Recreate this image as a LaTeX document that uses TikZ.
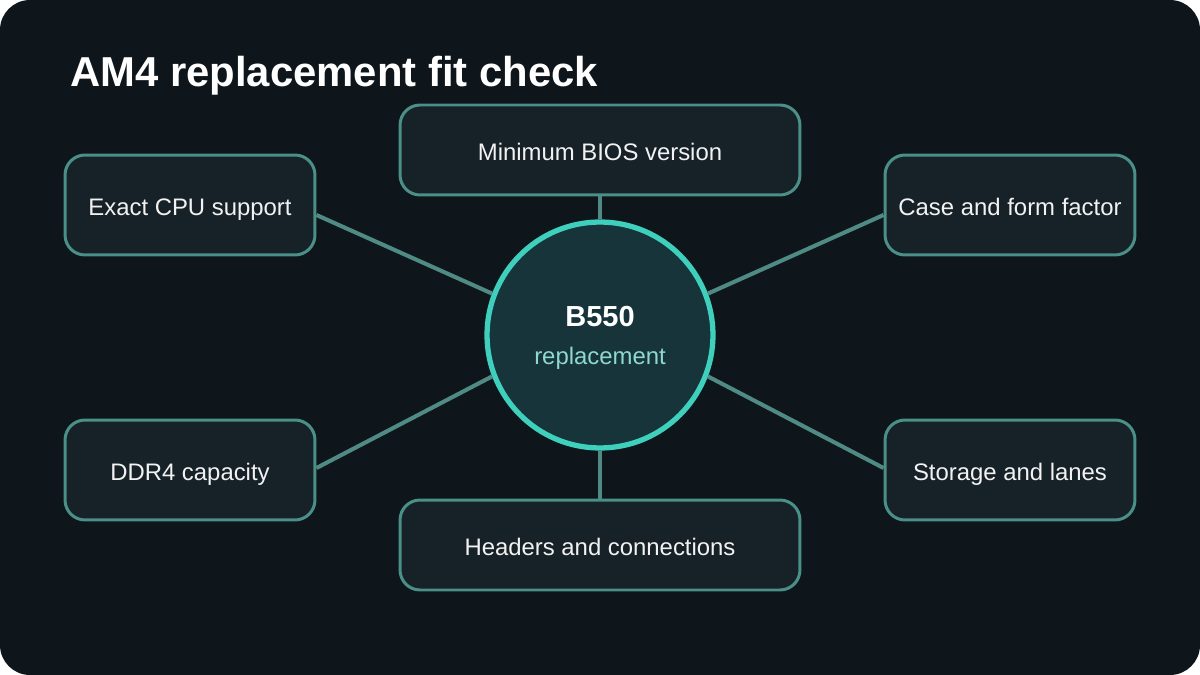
\documentclass[tikz,border=0pt]{standalone}
\usepackage{fontspec}
\setsansfont{Liberation Sans}
\usetikzlibrary{positioning, calc}

\definecolor{pagebg}{HTML}{0F161B}
\definecolor{boxfill}{HTML}{172228}
\definecolor{boxline}{HTML}{4A8F88}
\definecolor{hubfill}{HTML}{17343A}
\definecolor{hubline}{HTML}{3ECFBD}
\definecolor{linkcol}{HTML}{4F8A85}
\definecolor{subtext}{HTML}{8ED8CC}

\begin{document}
\begin{tikzpicture}[
    x=0.02cm, y=-0.02cm,
    itembox/.style={
        draw=boxline, fill=boxfill, line width=1.7pt, rounded corners=0.4cm,
        minimum width=5cm, minimum height=2cm, inner sep=0pt, align=center,
        font=\sffamily\fontsize{13.6}{16}\selectfont, text=white!95!black,
        text height=11.9pt, text depth=0pt
    },
    widebox/.style={itembox, minimum width=8cm, minimum height=1.8cm},
    hubnode/.style={
        circle, draw=hubline, fill=hubfill, line width=3pt,
        minimum size=4.52cm, inner sep=0pt
    },
    link/.style={draw=linkcol, line width=2.3pt},
    ttl/.style={font=\sffamily\bfseries\fontsize{23.8}{28}\selectfont, text=white, inner sep=0pt},
]

% Column x-coordinates
\def\cL{190}
\def\cM{600}
\def\cR{1010}

% Row y-coordinates
\def\rT{150}
\def\rU{205}
\def\rC{335}
\def\rD{470}
\def\rB{545}

% ====== PAGE ======
\fill[white] (0,0) rectangle (1200,675);
\fill[pagebg, rounded corners=0.6cm] (0,0) rectangle (1200,675);
\useasboundingbox (0,0) rectangle (1200,675);

% ====== TITLE ======
\node[ttl, anchor=base west] (title) at (70,87) {AM4 replacement fit check};

% ====== HUB ======
\node[hubnode] (hub) at (\cM, \rC) {};
\node[font=\sffamily\bfseries\fontsize{16.5}{20}\selectfont, text=white, anchor=base, inner sep=0pt]
    (hubname) at (\cM, 327) {B550};
\node[font=\sffamily\fontsize{13.6}{16}\selectfont, text=subtext, anchor=base, inner sep=0pt]
    (hubsub) at (\cM, 365) {replacement};

% ====== CHECK ITEMS ======
\node[widebox] (bios) at (\cM, \rT) {Minimum BIOS version};
\node[itembox] (cpu) at (\cL, \rU) {Exact CPU support};
\node[itembox] (case) at (\cR, \rU) {Case and form factor};
\node[itembox] (ddr) at (\cL, \rD) {DDR4 capacity};
\node[itembox] (stor) at (\cR, \rD) {Storage and lanes};
\node[widebox] (hdrs) at (\cM, \rB) {Headers and connections};

% ====== LINKS ======
\draw[link] (bios) -- (hub);
\draw[link] (hub) -- (hdrs);
\draw[link] (hub.159) -- ([yshift=-0.2cm]cpu.east);
\draw[link] (hub.21) -- ([yshift=-0.2cm]case.west);
\draw[link] (hub.201) -- ([yshift=0.04cm]ddr.east);
\draw[link] (hub.339) -- ([yshift=0.04cm]stor.west);

\end{tikzpicture}
\end{document}
